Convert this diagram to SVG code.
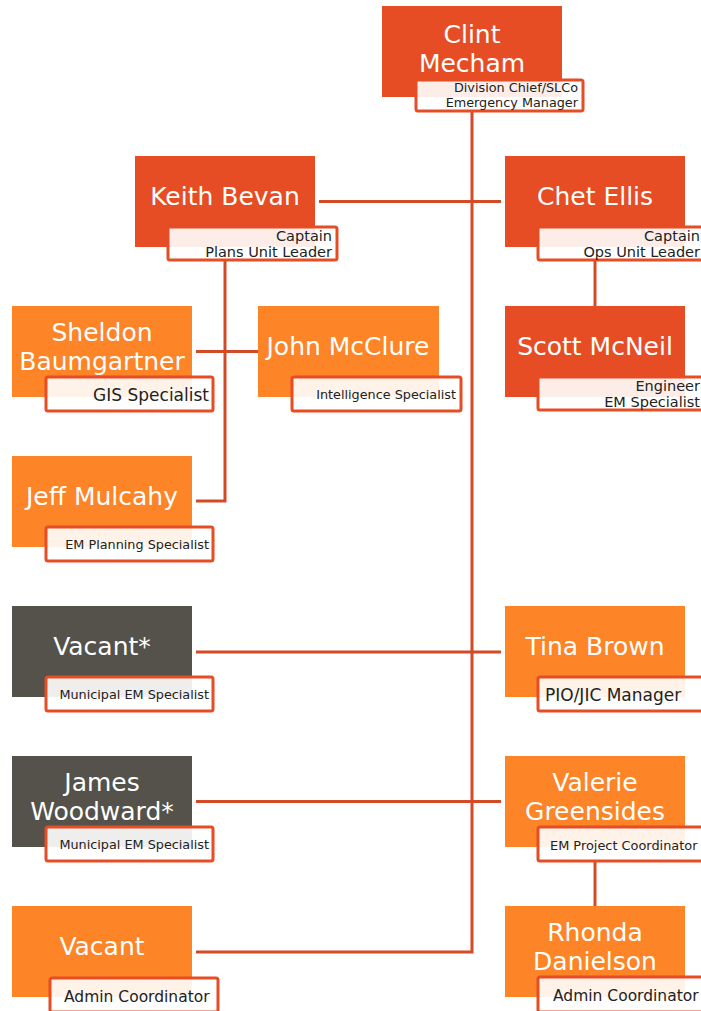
<svg xmlns="http://www.w3.org/2000/svg" width="701" height="1011" viewBox="0 0 701 1011">
<style>
.red{fill:#e64d24}
.org{fill:#fd8427}
.gry{fill:#54524a}
.lbl{fill:#ffffff;fill-opacity:0.9;stroke:#e64d24;stroke-width:3}
.nm{font-family:"DejaVu Sans",sans-serif;font-size:25px;fill:#ffffff;text-anchor:middle}
.t{font-family:"DejaVu Sans",sans-serif;font-size:12.8px;fill:#222222;text-anchor:end}
.t2{font-family:"DejaVu Sans",sans-serif;font-size:14.5px;fill:#222222;text-anchor:end}
.ts{font-family:"DejaVu Sans",sans-serif;fill:#222222}
.cn{stroke:#d24a26;stroke-width:3;fill:none}
</style>
<rect width="701" height="1011" fill="#ffffff"/>
<g id="connectors">
<path class="cn" d="M472 111 V952 H196"/>
<path class="cn" d="M319 201.5 H501"/>
<path class="cn" d="M225 260 V501 H196"/>
<path class="cn" d="M196 351.5 H258"/>
<path class="cn" d="M595 260 V306"/>
<path class="cn" d="M196 652 H501"/>
<path class="cn" d="M196 801.5 H501"/>
<path class="cn" d="M595 861 V906"/>
</g>
<g id="clint">
<rect class="red" x="382" y="6" width="180" height="91"/>
<text class="nm" x="472" y="43">Clint</text>
<text class="nm" x="472" y="72">Mecham</text>
<rect class="lbl" x="416" y="80" width="167" height="31" rx="2"/>
<text class="t" x="578" y="92">Division Chief/SLCo</text>
<text class="t" x="578" y="107">Emergency Manager</text>
</g>
<g id="keith">
<rect class="red" x="135" y="156" width="180" height="91"/>
<text class="nm" x="225" y="205">Keith Bevan</text>
<rect class="lbl" x="168" y="227" width="169" height="33" rx="2"/>
<text class="t2" x="332" y="241">Captain</text>
<text class="t2" x="332" y="257">Plans Unit Leader</text>
</g>
<g id="chet">
<rect class="red" x="505" y="156" width="180" height="91"/>
<text class="nm" x="595" y="205">Chet Ellis</text>
<rect class="lbl" x="538" y="227" width="169" height="33" rx="2"/>
<text class="t2" x="700" y="241">Captain</text>
<text class="t2" x="700" y="257">Ops Unit Leader</text>
</g>
<g id="sheldon">
<rect class="org" x="12" y="306" width="180" height="91"/>
<text class="nm" x="102" y="341">Sheldon</text>
<text class="nm" x="102" y="370">Baumgartner</text>
<rect class="lbl" x="46" y="377" width="167" height="34" rx="2"/>
<text class="ts" x="209" y="401" font-size="17" text-anchor="end">GIS Specialist</text>
</g>
<g id="john">
<rect class="org" x="258" y="306" width="181" height="91"/>
<text class="nm" x="348" y="355">John McClure</text>
<rect class="lbl" x="292" y="377" width="169" height="34" rx="2"/>
<text class="t" x="456" y="399">Intelligence Specialist</text>
</g>
<g id="scott">
<rect class="red" x="505" y="306" width="180" height="91"/>
<text class="nm" x="595" y="355">Scott McNeil</text>
<rect class="lbl" x="538" y="377" width="169" height="33" rx="2"/>
<text class="t2" x="700" y="391">Engineer</text>
<text class="t2" x="700" y="407">EM Specialist</text>
</g>
<g id="jeff">
<rect class="org" x="12" y="456" width="180" height="91"/>
<text class="nm" x="102" y="505">Jeff Mulcahy</text>
<rect class="lbl" x="46" y="527" width="167" height="34" rx="2"/>
<text class="t" x="209" y="549">EM Planning Specialist</text>
</g>
<g id="vacant-star">
<rect class="gry" x="12" y="606" width="180" height="91"/>
<text class="nm" x="102" y="655">Vacant*</text>
<rect class="lbl" x="46" y="677" width="167" height="34" rx="2"/>
<text class="t" x="209" y="699">Municipal EM Specialist</text>
</g>
<g id="tina">
<rect class="org" x="505" y="606" width="180" height="91"/>
<text class="nm" x="595" y="655">Tina Brown</text>
<rect class="lbl" x="538" y="677" width="169" height="34" rx="2"/>
<text class="ts" x="545" y="701" font-size="17">PIO/JIC Manager</text>
</g>
<g id="james">
<rect class="gry" x="12" y="756" width="180" height="91"/>
<text class="nm" x="102" y="791">James</text>
<text class="nm" x="102" y="820">Woodward*</text>
<rect class="lbl" x="46" y="827" width="167" height="34" rx="2"/>
<text class="t" x="209" y="849">Municipal EM Specialist</text>
</g>
<g id="valerie">
<rect class="org" x="505" y="756" width="180" height="91"/>
<text class="nm" x="595" y="791">Valerie</text>
<text class="nm" x="595" y="820">Greensides</text>
<rect class="lbl" x="538" y="827" width="169" height="34" rx="2"/>
<text class="ts" x="550" y="850" font-size="12.9">EM Project Coordinator</text>
</g>
<g id="vacant">
<rect class="org" x="12" y="906" width="180" height="91"/>
<text class="nm" x="102" y="955">Vacant</text>
<rect class="lbl" x="50" y="978" width="168" height="34" rx="2"/>
<text class="ts" x="64" y="1002" font-size="15.5">Admin Coordinator</text>
</g>
<g id="rhonda">
<rect class="org" x="505" y="906" width="180" height="91"/>
<text class="nm" x="595" y="941">Rhonda</text>
<text class="nm" x="595" y="970">Danielson</text>
<rect class="lbl" x="538" y="977" width="169" height="35" rx="2"/>
<text class="ts" x="553" y="1001" font-size="15.5">Admin Coordinator</text>
</g>
</svg>
